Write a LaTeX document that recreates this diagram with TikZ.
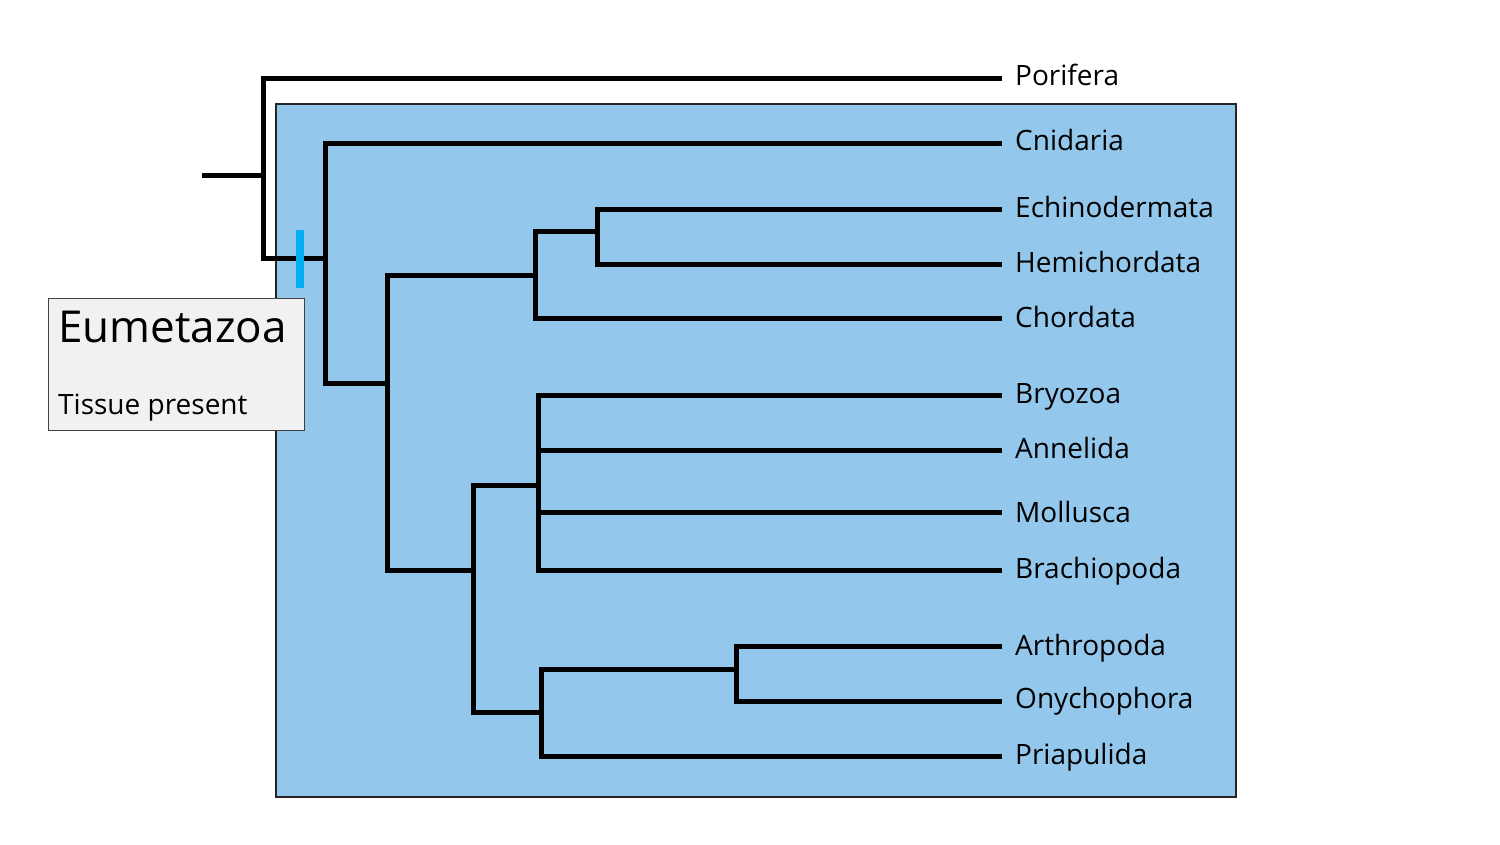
\documentclass[tikz,border=0pt]{standalone}
\usepackage{fontspec}
\setmainfont{Open Sans}
\definecolor{cladeblue}{RGB}{147,199,236}
\definecolor{tickblue}{RGB}{0,176,240}
\definecolor{boxgray}{RGB}{241,241,241}
\tikzset{
  branch/.style={line width=5pt, line join=miter, line cap=butt},
  leaf/.style={anchor=base west, inner sep=0pt, font=\fontsize{28}{32}\selectfont},
}
\begin{document}
\begin{tikzpicture}[x=1pt,y=-1pt]
\useasboundingbox (0,0) rectangle (1500,844);
% clade box
\node[draw=black!85, line width=1.5pt, fill=cladeblue, minimum width=960pt, minimum height=693pt, anchor=north west, inner sep=0pt] (clade) at (275,103) {};
% leaf labels
\node[leaf] (por) at (1015,85) {Porifera};
\node[leaf] (cni) at (1015,150) {Cnidaria};
\node[leaf] (ech) at (1015,217) {Echinodermata};
\node[leaf] (hem) at (1015,272) {Hemichordata};
\node[leaf] (cho) at (1015,327) {Chordata};
\node[leaf] (bry) at (1015,403) {Bryozoa};
\node[leaf] (ann) at (1015,458) {Annelida};
\node[leaf] (mol) at (1015,522) {Mollusca};
\node[leaf] (bra) at (1015,578) {Brachiopoda};
\node[leaf] (art) at (1015,655) {Arthropoda};
\node[leaf] (ony) at (1015,708) {Onychophora};
\node[leaf] (pri) at (1015,764) {Priapulida};
% leaf tips
\coordinate (porT) at (1002,78);
\coordinate (cniT) at (1002,143);
\coordinate (echT) at (1002,209);
\coordinate (hemT) at (1002,264);
\coordinate (choT) at (1002,318);
\coordinate (bryT) at (1002,395);
\coordinate (annT) at (1002,450);
\coordinate (molT) at (1002,512);
\coordinate (braT) at (1002,570);
\coordinate (artT) at (1002,646);
\coordinate (onyT) at (1002,701);
\coordinate (priT) at (1002,756);
% internal nodes
\coordinate (stub) at (202,175);
\coordinate (root) at (263,175);
\coordinate (eum) at (325,258);
\coordinate (bil) at (387,383);
\coordinate (deu) at (535,275);
\coordinate (amb) at (597,231);
\coordinate (pro) at (473,570);
\coordinate (lop) at (538,485);
\coordinate (ecd) at (541,712);
\coordinate (pan) at (736,669);
% branches
\draw[branch] (stub) -- (root);
\draw[branch] (root) |- (porT);
\draw[branch] (root) |- (eum);
\draw[branch] (eum) |- (cniT);
\draw[branch] (eum) |- (bil);
\draw[branch] (bil) |- (deu);
\draw[branch] (bil) |- (pro);
\draw[branch] (deu) |- (amb);
\draw[branch] (deu) |- (choT);
\draw[branch] (amb) |- (echT);
\draw[branch] (amb) |- (hemT);
\draw[branch] (pro) |- (lop);
\draw[branch] (pro) |- (ecd);
\draw[branch] (lop) |- (bryT);
\draw[branch] (lop) |- (annT);
\draw[branch] (lop) |- (molT);
\draw[branch] (lop) |- (braT);
\draw[branch] (ecd) |- (pan);
\draw[branch] (ecd) |- (priT);
\draw[branch] (pan) |- (artT);
\draw[branch] (pan) |- (onyT);
% synapomorphy tick
\coordinate (tickt) at (300,230);
\coordinate (tickb) at (300,288);
\draw[tickblue, line width=7.5pt] (tickt) -- (tickb);
% label box
\node[draw=black!75, line width=1.2pt, fill=boxgray, minimum width=256pt, minimum height=132pt, anchor=north west, inner sep=0pt] (lbox) at (48,298) {};
\node[anchor=base west, inner sep=0pt, font=\fontsize{44}{50}\selectfont] (eumlab) at (58,342) {Eumetazoa};
\node[anchor=base west, inner sep=0pt, font=\fontsize{28}{32}\selectfont] (tislab) at (58,414) {Tissue present};
\end{tikzpicture}
\end{document}
